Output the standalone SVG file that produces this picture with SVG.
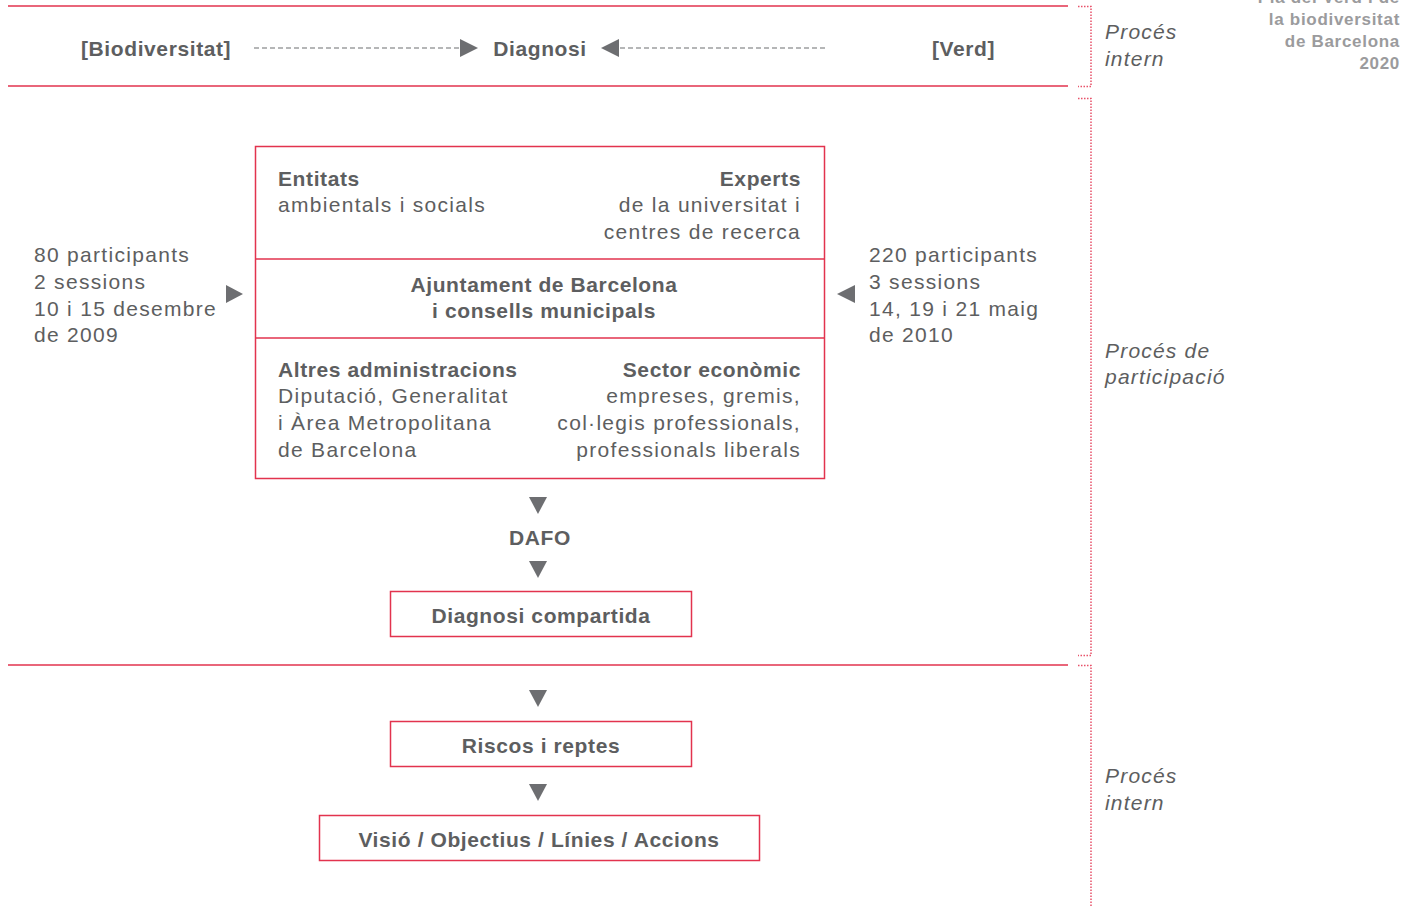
<svg xmlns="http://www.w3.org/2000/svg" width="1402" height="907" viewBox="0 0 1402 907">
<style>
text{font-family:"Liberation Sans",Arial,sans-serif;fill:#5d5e60;font-size:21px;letter-spacing:1.3px}
.b{font-weight:bold;letter-spacing:0.6px}
.m{text-anchor:middle}
.e{text-anchor:end}
.i{font-style:italic;letter-spacing:1.2px}
.hd{fill:#9b9b9d;font-weight:bold;font-size:17px;text-anchor:end;letter-spacing:0.7px}
.rl{stroke:#e2334e;stroke-width:1.3;fill:none}
.box{stroke:#e2334e;stroke-width:1.5;fill:#fff}
.dot{stroke:#e8526a;stroke-width:1.5;stroke-dasharray:1.5 1.5;fill:none}
.dash{stroke:#6d6e71;stroke-width:1.2;stroke-dasharray:5 3;fill:none}
.tri{fill:#6d6e71}
</style>
<rect width="1402" height="907" fill="#fff"/>
<g id="header">
<text class="hd" x="1400" y="3">Pla del Verd i de</text>
<text class="hd" x="1400" y="25">la biodiversitat</text>
<text class="hd" x="1400" y="47">de Barcelona</text>
<text class="hd" x="1400" y="69">2020</text>
</g>
<g id="separators">
<line class="rl" x1="8" y1="6" x2="1068" y2="6"/>
<line class="rl" x1="8" y1="86" x2="1068" y2="86"/>
<line class="rl" x1="8" y1="665" x2="1068" y2="665"/>
</g>
<g id="brackets">
<path class="dot" d="M1078 6.5H1091V86.5H1078"/>
<path class="dot" d="M1078 98.5H1091V655.5H1078"/>
<path class="dot" d="M1078 665.5H1091V907"/>
</g>
<g id="labels-right">
<text class="i" x="1105" y="39">Procés</text>
<text class="i" x="1105" y="66">intern</text>
<text class="i" x="1105" y="358">Procés de</text>
<text class="i" x="1105" y="384">participació</text>
<text class="i" x="1105" y="783">Procés</text>
<text class="i" x="1105" y="810">intern</text>
</g>
<g id="node-biodiversitat"><text class="b" x="81" y="56">[Biodiversitat]</text></g>
<g id="node-diagnosi"><text class="b m" x="540" y="56">Diagnosi</text></g>
<g id="node-verd"><text class="b e" x="995" y="56">[Verd]</text></g>
<g id="node-participacio">
<rect class="box" x="255.5" y="146.5" width="569" height="332"/>
<line class="rl" x1="255.5" y1="259" x2="824.5" y2="259"/>
<line class="rl" x1="255.5" y1="338" x2="824.5" y2="338"/>
<text class="b" x="278" y="186">Entitats</text>
<text x="278" y="212">ambientals i socials</text>
<text class="b e" x="801" y="186">Experts</text>
<text class="e" x="801" y="212">de la universitat i</text>
<text class="e" x="801" y="239">centres de recerca</text>
<text class="b m" x="544" y="292">Ajuntament de Barcelona</text>
<text class="b m" x="544" y="318">i consells municipals</text>
<text class="b" x="278" y="377">Altres administracions</text>
<text x="278" y="403">Diputació, Generalitat</text>
<text x="278" y="430">i Àrea Metropolitana</text>
<text x="278" y="457">de Barcelona</text>
<text class="b e" x="801" y="377">Sector econòmic</text>
<text class="e" x="801" y="403">empreses, gremis,</text>
<text class="e" x="801" y="430">col·legis professionals,</text>
<text class="e" x="801" y="457">professionals liberals</text>
</g>
<g id="node-sessions-2009">
<text x="34" y="262">80 participants</text>
<text x="34" y="289">2 sessions</text>
<text x="34" y="316">10 i 15 desembre</text>
<text x="34" y="342">de 2009</text>
</g>
<g id="node-sessions-2010">
<text x="869" y="262">220 participants</text>
<text x="869" y="289">3 sessions</text>
<text x="869" y="316">14, 19 i 21 maig</text>
<text x="869" y="342">de 2010</text>
</g>
<g id="node-dafo"><text class="b m" x="540" y="545">DAFO</text></g>
<g id="node-diagnosi-compartida">
<rect class="box" x="390.5" y="591.5" width="301" height="45"/>
<text class="b m" x="541" y="623">Diagnosi compartida</text>
</g>
<g id="node-riscos">
<rect class="box" x="390.5" y="721.5" width="301" height="45"/>
<text class="b m" x="541" y="753">Riscos i reptes</text>
</g>
<g id="node-visio">
<rect class="box" x="319.5" y="815.5" width="440" height="45"/>
<text class="b m" x="539" y="847">Visió / Objectius / Línies / Accions</text>
</g>
<g id="connectors">
<line class="dash" x1="254" y1="48" x2="460" y2="48"/>
<polygon class="tri" points="460,39 478,48 460,57"/>
<line class="dash" x1="620" y1="48" x2="826" y2="48"/>
<polygon class="tri" points="619,39 601,48 619,57"/>
<polygon class="tri" points="226,285 243,294 226,303"/>
<polygon class="tri" points="855,285 837,294 855,303"/>
<polygon class="tri" points="529,497 547,497 538,514"/>
<polygon class="tri" points="529,561 547,561 538,578"/>
<polygon class="tri" points="529,690 547,690 538,707"/>
<polygon class="tri" points="529,784 547,784 538,801"/>
</g>
</svg>
